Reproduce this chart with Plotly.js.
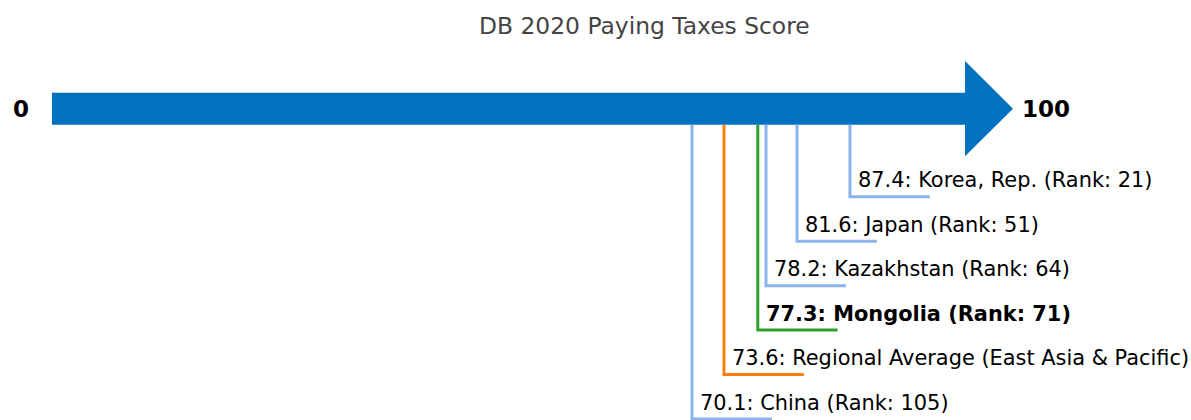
<!DOCTYPE html>
<html>
<head>
<meta charset="utf-8">
<script src="https://cdn.plot.ly/plotly-3.0.1.min.js"></script>
<style>html,body{margin:0;padding:0;background:#fff;}#chart{width:1191px;height:420px;}</style>
</head>
<body>
<div id="chart"></div>
<script>
// Data
const names = ["Korea, Rep.", "Japan", "Kazakhstan", "Mongolia", "Regional Average (East Asia & Pacific)", "China"];
const scores = [87.4, 81.6, 78.2, 77.3, 73.6, 70.1];
const ranks = [21, 51, 64, 71, null, 105];
const levels = [1, 2, 3, 4, 5, 6];
const colors = ["#8ab4ea", "#8ab4ea", "#8ab4ea", "#2ca02c", "#ff7f0e", "#8ab4ea"];
const highlight = [false, false, false, true, false, false];
const scaleMin = 0, scaleMax = 100;

const barY = -0.98, barHalf = 0.36, headHalf = 1.07, headLen = 5.25, leaderLen = 8.75;
const barBottom = barY + barHalf;

const traces = [];
const annotations = [];
names.forEach((n, i) => {
  traces.push({
    type: "scatter", mode: "lines",
    x: [scores[i], scores[i], scores[i] + leaderLen],
    y: [barBottom, levels[i], levels[i]],
    line: {color: colors[i], width: 3},
    hoverinfo: "skip", showlegend: false
  });
  const label = scores[i].toFixed(1) + ": " + n + (ranks[i] !== null ? " (Rank: " + ranks[i] + ")" : "");
  annotations.push({
    x: scores[i], y: levels[i], xref: "x", yref: "y",
    text: highlight[i] ? "<b>" + label + "</b>" : label,
    showarrow: false, xanchor: "left", yanchor: "bottom", xshift: 6, yshift: 2.5,
    font: {family: "DejaVu Sans", size: 20.9, color: "#000"}
  });
});
annotations.push({
  x: scaleMin, y: barY, xref: "x", yref: "y", text: "<b>" + scaleMin + "</b>",
  showarrow: false, xanchor: "right", yanchor: "middle", xshift: -21,
  font: {family: "DejaVu Sans", size: 23, color: "#000"}
});
annotations.push({
  x: scaleMax + headLen, y: barY, xref: "x", yref: "y", text: "<b>" + scaleMax + "</b>",
  showarrow: false, xanchor: "left", yanchor: "middle", xshift: 7,
  font: {family: "DejaVu Sans", size: 23, color: "#000"}
});

const arrowPath = "M " + scaleMin + " " + (barY - barHalf) +
  " L " + scaleMax + " " + (barY - barHalf) +
  " L " + scaleMax + " " + (barY - headHalf) +
  " L " + (scaleMax + headLen) + " " + barY +
  " L " + scaleMax + " " + (barY + headHalf) +
  " L " + scaleMax + " " + (barY + barHalf) +
  " L " + scaleMin + " " + (barY + barHalf) + " Z";

const layout = {
  width: 1191, height: 420,
  margin: {l: 0, r: 0, t: 0, b: 0},
  paper_bgcolor: "#fff", plot_bgcolor: "#fff",
  title: {text: "DB 2020 Paying Taxes Score", x: 0.541, xanchor: "center", y: 0.938, yanchor: "middle",
          font: {family: "DejaVu Sans", size: 23.4, color: "#444"}},
  xaxis: {range: [-5.695, 124.75], visible: false, fixedrange: true},
  yaxis: {range: [6.022, -3.424], visible: false, fixedrange: true},
  shapes: [{type: "path", path: arrowPath, xref: "x", yref: "y", fillcolor: "#0072bf", line: {width: 0}, layer: "below"}],
  annotations: annotations,
  showlegend: false
};

Plotly.newPlot("chart", traces, layout, {displayModeBar: false, staticPlot: true});
</script>
</body>
</html>
